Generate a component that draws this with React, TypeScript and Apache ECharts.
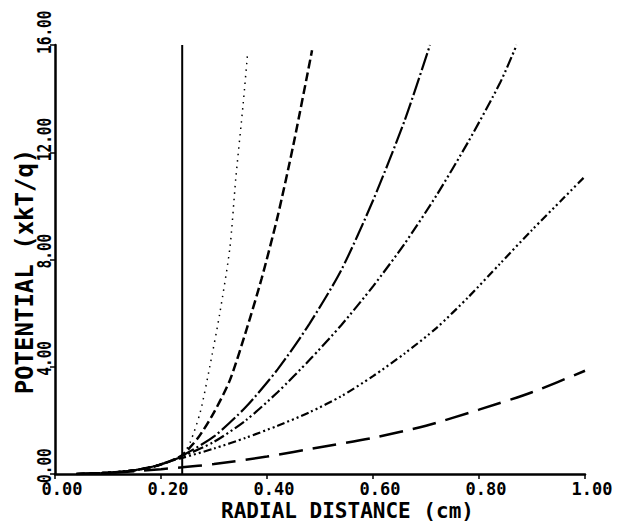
import React, { useEffect, useRef } from "react";
import * as echarts from "echarts";

// Tick values
const xTicks = [0, 0.2, 0.4, 0.6, 0.8, 1.0];
const yTicks = [0, 4, 8, 12, 16];

// Vertical boundary line
const boundaryR = [0.24, 0.24];
const boundaryV = [0, 16];

// Common part of the curves before the boundary
const commonR = [0.04, 0.1, 0.15, 0.19, 0.22];
const commonV = [0, 0.05, 0.14, 0.3, 0.5];

// Curve 1 (dotted)
const c1R = [0.24, 0.255, 0.274, 0.292, 0.311, 0.33, 0.341, 0.355, 0.363];
const c1V = [0.7, 1.18, 2.3, 4.0, 6.0, 8.44, 11.0, 13.8, 15.6];

// Curve 2 (short dash)
const c2R = [0.24, 0.27, 0.3, 0.33, 0.36, 0.39, 0.42, 0.45, 0.485];
const c2V = [0.7, 1.35, 2.3, 3.5, 5.3, 7.3, 9.6, 12.3, 15.8];

// Curve 3 (long dash - dot)
const c3R = [0.24, 0.3, 0.36, 0.42, 0.48, 0.54, 0.6, 0.66, 0.7075];
const c3V = [0.68, 1.4, 2.5, 3.9, 5.6, 7.6, 10.2, 13.2, 16.0];

// Curve 4 (dash - dot - dot)
const c4R = [0.24, 0.3, 0.36, 0.42, 0.48, 0.54, 0.6, 0.66, 0.72, 0.78, 0.84, 0.871];
const c4V = [0.65, 1.2, 2.0, 3.05, 4.25, 5.55, 7.0, 8.6, 10.4, 12.4, 14.6, 16.0];

// Curve 5 (dash - dot - dot - dot)
const c5R = [0.24, 0.3, 0.36, 0.42, 0.48, 0.54, 0.6, 0.66, 0.72, 0.78, 0.84, 0.9, 0.96, 1.0];
const c5V = [0.6, 0.95, 1.35, 1.8, 2.3, 2.9, 3.65, 4.5, 5.45, 6.6, 7.85, 9.1, 10.3, 11.1];

// Curve 6 (long dash)
const c6R = [0.04, 0.1, 0.16, 0.2, 0.24, 0.3, 0.4, 0.5, 0.6, 0.7, 0.8, 0.9, 1.0];
const c6V = [0, 0.04, 0.12, 0.18, 0.25, 0.37, 0.65, 1.0, 1.35, 1.8, 2.4, 3.05, 3.85];

const zip = (xs: number[], ys: number[]) => xs.map((x, i) => [x, ys[i]]);
const withCommon = (xs: number[], ys: number[]) => zip(commonR.concat(xs), commonV.concat(ys));

const FONT = "DejaVu Sans Mono";

export default function App() {
  const ref = useRef<HTMLDivElement>(null);
  useEffect(() => {
    if (!ref.current) return;
    const chart = echarts.init(ref.current, null, { renderer: "svg" });
    const curve = (name: string, data: number[][], type: any, width: number) => ({
      name,
      type: "line",
      data,
      showSymbol: false,
      symbol: "none",
      smooth: 0.25,
      lineStyle: { color: "#000", width, type },
      z: 3,
    });
    chart.setOption({
      animation: false,
      backgroundColor: "#fff",
      grid: {
        left: 55,
        right: 36,
        top: 45,
        bottom: 49,
        containLabel: false,
        outerBoundsMode: "none",
      },
      xAxis: {
        type: "value",
        min: 0,
        max: 1,
        interval: 0.2,
        name: "RADIAL DISTANCE (cm)",
        nameLocation: "middle",
        nameMoveOverlap: false,
        nameGap: 29,
        nameTextStyle: {
          fontFamily: FONT,
          fontWeight: "bold",
          fontSize: 21,
          lineHeight: 16,
          color: "#000",
          padding: [0, 0, 0, 55],
        },
        splitLine: { show: false },
        axisLine: { show: true, lineStyle: { color: "#000", width: 2.5 } },
        axisTick: { show: true, length: 5, lineStyle: { color: "#000", width: 1.5 } },
        axisLabel: {
          fontFamily: FONT,
          fontWeight: "bold",
          fontSize: 17,
          lineHeight: 14,
          color: "#000",
          margin: 8,
          padding: [0, 0, 0, 14],
          formatter: (v: number) => v.toFixed(2),
          customValues: xTicks,
        },
      },
      yAxis: {
        type: "value",
        min: 0,
        max: 16,
        interval: 4,
        name: "POTENTIAL (xkT/q)",
        nameLocation: "middle",
        nameRotate: 90,
        nameMoveOverlap: false,
        nameGap: 18,
        nameTextStyle: {
          fontFamily: FONT,
          fontWeight: "bold",
          fontSize: 24,
          color: "#000",
          padding: [0, 24, 0, 0],
        },
        splitLine: { show: false },
        axisLine: { show: true, lineStyle: { color: "#000", width: 2.5 } },
        axisTick: { show: true, length: 5, lineStyle: { color: "#000", width: 1.5 } },
        axisLabel: { show: false },
      },
      series: [
        {
          name: "boundary",
          type: "line",
          data: zip(boundaryR, boundaryV),
          symbol: "none",
          lineStyle: { color: "#000", width: 2 },
          z: 4,
        },
        curve("c1", withCommon(c1R, c1V), [1.5, 5], 1.5),
        curve("c2", withCommon(c2R, c2V), [9, 4], 2.5),
        curve("c3", withCommon(c3R, c3V), [18, 3, 2, 3], 2.2),
        curve("c4", withCommon(c4R, c4V), [11, 3, 2, 3, 2, 3], 2.2),
        curve("c5", withCommon(c5R, c5V), [8, 3, 2, 3, 2, 3, 2, 3], 2.2),
        curve("c6", zip(c6R, c6V), [24, 10], 2.5),
      ],
    });
    // Rotated y tick labels, placed through the axis scale
    const labels = yTicks.map((v) => {
      const p = chart.convertToPixel({ gridIndex: 0 }, [0, v]) as number[];
      return {
        type: "text",
        x: p[0] - 1,
        y: p[1] + 9,
        rotation: Math.PI / 2,
        scaleX: 0.85,
        scaleY: 1.1,
        style: {
          text: v.toFixed(2),
          fontFamily: FONT,
          fontWeight: "bold",
          fontSize: 17,
          fill: "#000",
          align: "left",
          verticalAlign: "bottom",
        },
        z: 10,
      };
    });
    chart.setOption({ graphic: labels });
    return () => chart.dispose();
  }, []);
  return (
    <div
      ref={ref}
      style={{ position: "fixed", left: 0, top: 0, width: 621, height: 523, background: "#fff" }}
    />
  );
}
